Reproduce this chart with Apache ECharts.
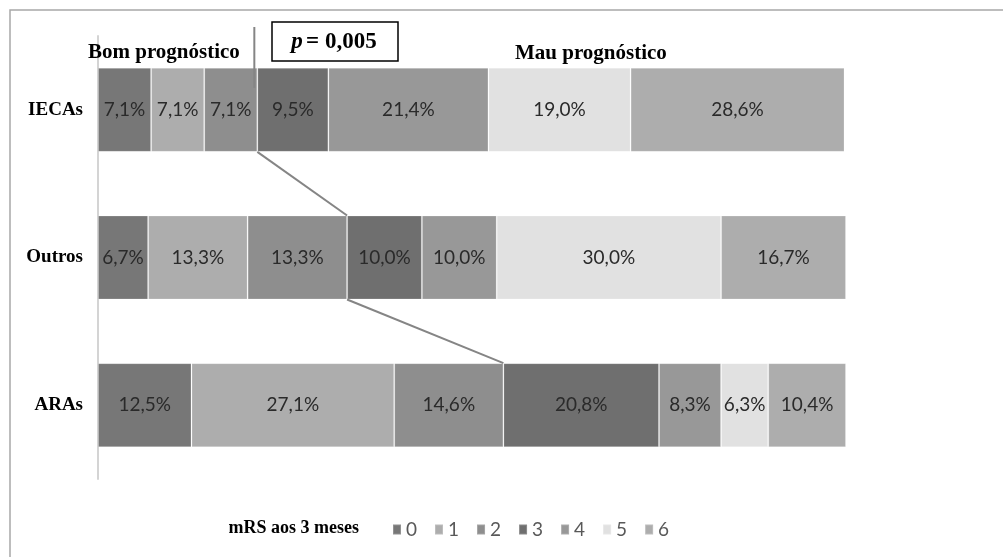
<!DOCTYPE html>
<html>
<head>
<meta charset="utf-8">
<script src="https://cdn.jsdelivr.net/npm/echarts@6/dist/echarts.min.js"></script>
<style>
  html, body { margin: 0; padding: 0; background: #fff; }
  #chart { width: 1003px; height: 557px; }
</style>
</head>
<body>
<div id="chart"></div>
<script>
// Treatment groups, top to bottom
const categories = ['IECAs', 'Outros', 'ARAs'];
// mRS score at 3 months (legend entries)
const mrsLevels = ['0', '1', '2', '3', '4', '5', '6'];
// Percentage of patients per mRS level, one array per group (order of categories)
const iecas  = [7.1, 7.1, 7.1, 9.5, 21.4, 19.0, 28.6];
const outros = [6.7, 13.3, 13.3, 10.0, 10.0, 30.0, 16.7];
const aras   = [12.5, 27.1, 14.6, 20.8, 8.3, 6.3, 10.4];
const groups = [iecas, outros, aras];
// Good outcome = mRS 0-2: the series lines join the end of level 2 in each bar
const goodOutcomeLastLevel = 2;
// Position (in %) of the divider between the two outcome headings
const dividerAt = 20.9;

const colors = ['#777777', '#adadad', '#8e8e8e', '#6f6f6f', '#989898', '#e1e1e1', '#adadad'];
const barPx = 84;

const chart = echarts.init(document.getElementById('chart'), null, { renderer: 'canvas' });

const fmt = v => v.toFixed(1).replace('.', ',') + '%';

const series = mrsLevels.map((lvl, i) => ({
  name: lvl,
  type: 'bar',
  stack: 'mrs',
  barWidth: barPx,
  data: groups.map(g => g[i]),
  itemStyle: { color: colors[i], borderColor: 'rgba(255,255,255,0.2)', borderWidth: 1 },
  label: {
    show: true,
    position: 'inside',
    formatter: p => fmt(p.value),
    fontFamily: 'Lato, "Open Sans", sans-serif',
    fontSize: 19,
    color: '#2a2a2a'
  },
  emphasis: { disabled: true }
}));

chart.setOption({
  animation: false,
  backgroundColor: '#ffffff',
  grid: { left: 98, right: 157, top: 36, bottom: 78 },
  xAxis: { type: 'value', min: 0, max: 100, show: false },
  yAxis: {
    type: 'category',
    data: categories,
    inverse: true,
    axisLine: { show: true, lineStyle: { color: '#d4d4d4', width: 2 } },
    axisTick: { show: false },
    axisLabel: {
      margin: 15,
      fontFamily: '"Liberation Serif", "DejaVu Serif", serif',
      fontWeight: 'bold',
      fontSize: 19,
      color: '#000'
    }
  },
  legend: {
    data: mrsLevels,
    left: 387,
    top: 515,
    icon: 'rect',
    itemWidth: 8,
    itemHeight: 10,
    itemGap: 17,
    textStyle: { fontFamily: 'Lato, "Open Sans", sans-serif', fontSize: 19, color: '#595959' },
    selectedMode: false
  },
  series: series
});

// Overlay: frame, outcome headings, p-value box, series lines
function drawOverlay() {
  const half = barPx / 2;
  const px = (val, catIdx) => chart.convertToPixel({ xAxisIndex: 0, yAxisIndex: 0 }, [val, catIdx]);
  const cum = g => g.slice(0, goodOutcomeLastLevel + 1).reduce((a, b) => a + b, 0);

  const elements = [];
  // outer frame
  elements.push({
    type: 'rect', silent: true, z: 0,
    shape: { x: 10, y: 10, width: 1100, height: 700 },
    style: { fill: 'none', stroke: '#a8a8a8', lineWidth: 1.5 }
  });

  // series lines between consecutive bars
  for (let k = 0; k < groups.length - 1; k++) {
    const a = px(cum(groups[k]), k);
    const b = px(cum(groups[k + 1]), k + 1);
    elements.push({
      type: 'line', silent: true, z: 10,
      shape: { x1: a[0], y1: a[1] + half, x2: b[0], y2: b[1] - half },
      style: { stroke: '#858585', lineWidth: 2 }
    });
  }

  // divider between outcome headings
  const d = px(dividerAt, 0);
  elements.push({
    type: 'line', silent: true, z: 10,
    shape: { x1: d[0], y1: 27, x2: d[0], y2: d[1] - half + 20 },
    style: { stroke: '#858585', lineWidth: 2 }
  });

  const serif = '"Liberation Serif", "DejaVu Serif", serif';
  elements.push({
    type: 'text', silent: true, z: 10,
    style: { x: 88, y: 53, text: 'Bom prognóstico', font: 'bold 21px ' + serif, fill: '#000', verticalAlign: 'middle' }
  });
  elements.push({
    type: 'text', silent: true, z: 10,
    style: { x: 515, y: 54, text: 'Mau prognóstico', font: 'bold 21px ' + serif, fill: '#000', verticalAlign: 'middle' }
  });

  // p-value box
  elements.push({
    type: 'rect', silent: true, z: 10,
    shape: { x: 272, y: 22, width: 126, height: 39 },
    style: { fill: '#fff', stroke: '#000', lineWidth: 1.5 }
  });
  elements.push({
    type: 'text', silent: true, z: 11,
    style: {
      x: 334, y: 42,
      text: '{p|p} {b|= 0,005}',
      align: 'center', verticalAlign: 'middle',
      rich: {
        p: { fontFamily: serif, fontStyle: 'italic', fontWeight: 'bold', fontSize: 23, fill: '#000' },
        b: { fontFamily: serif, fontWeight: 'bold', fontSize: 23, fill: '#000' }
      }
    }
  });

  // legend title
  elements.push({
    type: 'text', silent: true, z: 10,
    style: { x: 359, y: 528, text: 'mRS aos 3 meses', font: 'bold 18px ' + serif, fill: '#000', align: 'right', verticalAlign: 'middle' }
  });

  chart.setOption({ graphic: { elements: elements } });
}
drawOverlay();
</script>
</body>
</html>
